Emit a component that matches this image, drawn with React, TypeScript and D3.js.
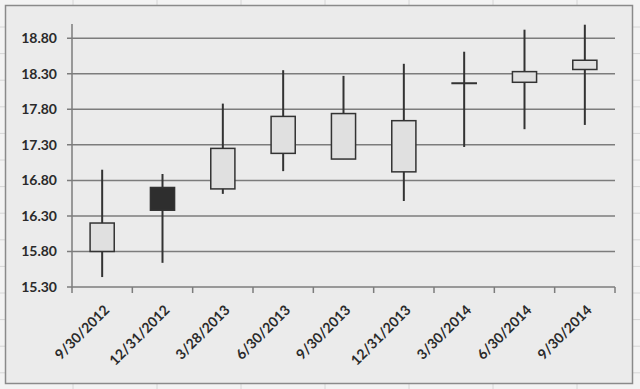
import React, { useEffect, useRef } from 'react';
import * as d3 from 'd3';

const dates = ['9/30/2012', '12/31/2012', '3/28/2013', '6/30/2013', '9/30/2013', '12/31/2013', '3/30/2014', '6/30/2014', '9/30/2014'];
const opens = [15.8, 16.7, 16.68, 17.18, 17.1, 16.92, 18.17, 18.18, 18.36];
const closes = [16.2, 16.38, 17.25, 17.7, 17.74, 17.64, 18.17, 18.33, 18.49];
const highs = [16.95, 16.89, 17.88, 18.35, 18.27, 18.44, 18.61, 18.92, 18.99];
const lows = [15.44, 15.64, 16.61, 16.93, 17.1, 16.51, 17.27, 17.52, 17.58];
const yTicks = [15.3, 15.8, 16.3, 16.8, 17.3, 17.8, 18.3, 18.8];

export default function App() {
    const ref = useRef<SVGSVGElement>(null);

    useEffect(() => {
        const svg = d3.select(ref.current);
        svg.selectAll('*').remove();

        const W = 640, H = 389;
        const left = 72, right = 615, top = 24, bottom = 287;

        // spreadsheet backdrop
        svg.append('rect').attr('width', W).attr('height', H).attr('fill', '#f3f3f3');
        const bg = svg.append('g').attr('stroke', '#d6d6d6').attr('stroke-width', 1);
        d3.range(73, W, 84).forEach((x) => bg.append('line').attr('x1', x).attr('x2', x).attr('y1', 0).attr('y2', H));
        d3.range(27, H, 26.6).forEach((y) => bg.append('line').attr('x1', 0).attr('x2', W).attr('y1', y).attr('y2', y));

        // chart frame
        svg.append('rect')
            .attr('x', 5.5).attr('y', 5.5).attr('width', 627).attr('height', 378)
            .attr('fill', '#ebebeb').attr('stroke', '#8a8a8a').attr('stroke-width', 1.5);

        const x = d3.scaleBand().domain(dates).range([left, right]);
        const y = d3.scaleLinear().domain([15.3, 19.0]).range([bottom, top]);

        // gridlines
        svg.append('g').selectAll('line').data(yTicks.slice(1)).enter().append('line')
            .attr('x1', left - 5).attr('x2', right)
            .attr('y1', (d) => y(d)).attr('y2', (d) => y(d))
            .attr('stroke', '#7c7c7c').attr('stroke-width', 1.5);

        // y axis
        svg.append('line').attr('x1', left).attr('x2', left).attr('y1', top).attr('y2', bottom)
            .attr('stroke', '#7c7c7c').attr('stroke-width', 1.5);
        svg.append('g').selectAll('text').data(yTicks).enter().append('text')
            .attr('x', 57).attr('y', (d) => y(d)).attr('dy', '0.35em')
            .attr('text-anchor', 'end')
            .attr('font-family', 'Lato').attr('font-size', 14).attr('font-weight', 'bold').attr('fill', '#2a2a2a')
            .text((d) => d.toFixed(2));

        // x axis
        svg.append('line').attr('x1', left - 5).attr('x2', right).attr('y1', bottom).attr('y2', bottom)
            .attr('stroke', '#7c7c7c').attr('stroke-width', 1.5);
        const tickXs = dates.map((d) => x(d) as number).concat([right]);
        svg.append('g').selectAll('line').data(tickXs).enter().append('line')
            .attr('x1', (d) => d).attr('x2', (d) => d).attr('y1', bottom).attr('y2', bottom + 6)
            .attr('stroke', '#7c7c7c').attr('stroke-width', 1.5);
        svg.append('g').selectAll('text').data(dates).enter().append('text')
            .attr('transform', (d) => `translate(${(x(d) as number) + x.bandwidth() / 2 + 8},${bottom + 24}) rotate(-45)`)
            .attr('text-anchor', 'end')
            .attr('font-family', 'Lato').attr('font-size', 14).attr('font-weight', 'bold').attr('fill', '#2a2a2a')
            .text((d) => d);

        // candles
        const bw = x.bandwidth() * 0.4;
        const g = svg.append('g').selectAll('g').data(dates).enter().append('g');
        g.append('line')
            .attr('x1', (d) => (x(d) as number) + x.bandwidth() / 2)
            .attr('x2', (d) => (x(d) as number) + x.bandwidth() / 2)
            .attr('y1', (_, i) => y(highs[i])).attr('y2', (_, i) => y(lows[i]))
            .attr('stroke', '#333').attr('stroke-width', 2);
        g.append('rect')
            .attr('x', (d) => (x(d) as number) + x.bandwidth() / 2 - bw / 2)
            .attr('width', bw)
            .attr('y', (_, i) => y(Math.max(opens[i], closes[i])))
            .attr('height', (_, i) => Math.max(0.5, Math.abs(y(opens[i]) - y(closes[i]))))
            .attr('fill', (_, i) => (closes[i] < opens[i] ? '#2e2e2e' : '#e0e0e0'))
            .attr('stroke', '#333').attr('stroke-width', 1.5);
    }, []);

    return <svg ref={ref} width={640} height={389} style={{ position: 'absolute', left: 0, top: 0 }} />;
}
